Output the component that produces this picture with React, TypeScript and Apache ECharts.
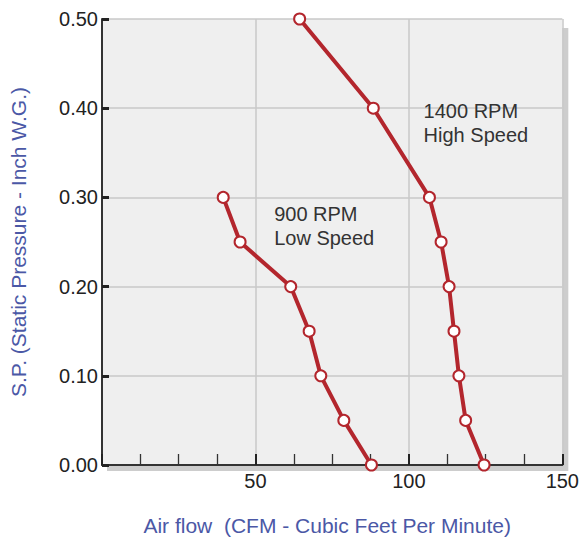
import React, { useEffect, useRef } from "react";
import * as echarts from "echarts";

const lowSpeedX = [39.5, 45, 61.5, 67.5, 71.3, 78.8, 87.8];
const lowSpeedY = [0.3, 0.25, 0.2, 0.15, 0.1, 0.05, 0.0];
const highSpeedX = [64.4, 88.4, 106.7, 110.5, 113.1, 114.7, 116.3, 118.5, 124.5];
const highSpeedY = [0.5, 0.4, 0.3, 0.25, 0.2, 0.15, 0.1, 0.05, 0.0];
const xTicks = [0, 50, 100, 150];
const yTicks = [0, 0.1, 0.2, 0.3, 0.4, 0.5];
const annotations = [
  { text: "1400 RPM\nHigh Speed", x: 104.8, y: 0.383 },
  { text: "900 RPM\nLow Speed", x: 56.1, y: 0.268 },
];
const xTitle = "Air flow  (CFM - Cubic Feet Per Minute)";
const yTitle = "S.P. (Static Pressure - Inch W.G.)";

const RED = "#b3262d";
const BLUE = "#4b58a6";
const FONT = "'Liberation Sans', Arial, sans-serif";

export default function App() {
  const ref = useRef<HTMLDivElement>(null);
  useEffect(() => {
    document.body.style.margin = "0";
    const chart = echarts.init(ref.current!, null, { renderer: "svg" });
    const pair = (xs: number[], ys: number[]) => xs.map((x, i) => [x, ys[i]]);
    const seriesStyle = {
      type: "line" as const,
      symbol: "circle",
      symbolSize: 11,
      showSymbol: true,
      lineStyle: { color: RED, width: 4 },
      itemStyle: { color: "#ffffff", borderColor: RED, borderWidth: 2 },
      z: 5,
    };
    chart.setOption({
      animation: false,
      textStyle: { fontFamily: FONT },
      grid: {
        left: 101,
        right: 12,
        top: 19,
        bottom: 75,
        show: true,
        backgroundColor: "#efefef",
        borderWidth: 0,
      },
      xAxis: {
        type: "value",
        min: xTicks[0],
        max: xTicks[xTicks.length - 1],
        interval: 50,
        name: xTitle,
        nameLocation: "middle",
        nameGap: 50,
        nameTextStyle: { color: BLUE, fontSize: 21, fontFamily: FONT, padding: [0, 10, 0, 0] },
        axisLine: { show: true, lineStyle: { color: "#333", width: 2 } },
        axisTick: { show: true, inside: true, length: 11, lineStyle: { color: "#222", width: 2 } },
        minorTick: { show: true, splitNumber: 4, length: 11, lineStyle: { color: "#333", width: 1.3 } },
        axisLabel: {
          color: "#222",
          fontSize: 20,
          fontFamily: FONT,
          margin: 6,
          formatter: (v: number) => (v === 0 ? "" : String(v)),
        },
        splitLine: { show: true, lineStyle: { color: "#c9c9c9", width: 1.5 } },
      },
      yAxis: {
        type: "value",
        min: yTicks[0],
        max: yTicks[yTicks.length - 1],
        interval: 0.1,
        name: yTitle,
        nameLocation: "middle",
        nameGap: 73,
        nameTextStyle: { color: BLUE, fontSize: 21, fontFamily: FONT },
        axisLine: { show: true, lineStyle: { color: "#333", width: 2 } },
        axisTick: { show: true, inside: true, length: 7, lineStyle: { color: "#222", width: 3 } },
        axisLabel: {
          color: "#222",
          fontSize: 20,
          fontFamily: FONT,
          margin: 4,
          formatter: (v: number) => v.toFixed(2),
        },
        splitLine: { show: true, lineStyle: { color: "#c9c9c9", width: 1.5 } },
      },
      series: [
        { ...seriesStyle, name: "900 RPM", data: pair(lowSpeedX, lowSpeedY) },
        { ...seriesStyle, name: "1400 RPM", data: pair(highSpeedX, highSpeedY) },
      ],
    });
    const tl = chart.convertToPixel({ gridIndex: 0 }, [xTicks[0], yTicks[yTicks.length - 1]]) as number[];
    const br = chart.convertToPixel({ gridIndex: 0 }, [xTicks[xTicks.length - 1], yTicks[0]]) as number[];
    const graphics: any[] = [
      {
        type: "rect",
        z: -10,
        silent: true,
        shape: { x: tl[0] + 5, y: tl[1] + 9, width: br[0] - tl[0] + 1, height: br[1] - tl[1] - 3 },
        style: { fill: "#cdcdcd" },
      },
    ];
    annotations.forEach((a) => {
      const p = chart.convertToPixel({ gridIndex: 0 }, [a.x, a.y]) as number[];
      graphics.push({
        type: "text",
        x: p[0],
        y: p[1],
        z: 10,
        style: {
          text: a.text,
          fontSize: 20,
          fontFamily: FONT,
          fill: "#333",
          lineHeight: 24,
          align: "left",
          verticalAlign: "middle",
        },
      });
    });
    chart.setOption({ graphic: graphics });
    return () => chart.dispose();
  }, []);
  return <div ref={ref} style={{ width: 582, height: 541 }} />;
}
